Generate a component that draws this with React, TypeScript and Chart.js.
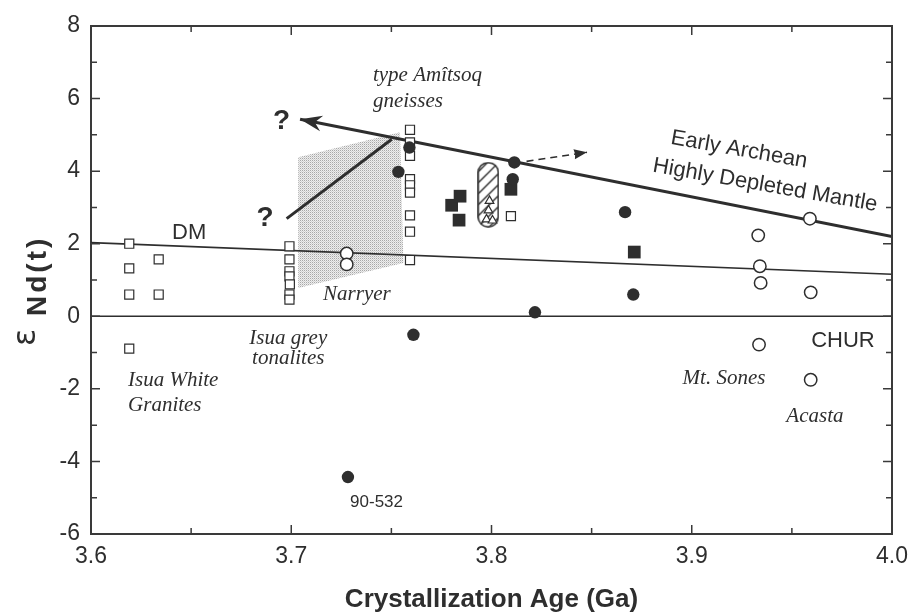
import React, { useEffect, useRef } from "react";
import { Chart, registerables } from "chart.js";

Chart.register(...registerables);

// ---------- axes ----------
const xTickValues = [3.6, 3.7, 3.8, 3.9, 4.0];
const xTickLabels = ["3.6", "3.7", "3.8", "3.9", "4.0"];
const yTickValues = [-6, -4, -2, 0, 2, 4, 6, 8];
const yTickLabels = ["-6", "-4", "-2", "0", "2", "4", "6", "8"];

// ---------- open squares (Isua white granites, Isua grey tonalites, Amitsoq gneisses) ----------
const isuaWhiteAge = [3.6191, 3.6191, 3.6191, 3.6191, 3.6338, 3.6338];
const isuaWhiteEnd = [2.0, 1.32, 0.6, -0.89, 1.57, 0.6];
const isuaGreyAge = [3.6991, 3.6991, 3.6991, 3.6991, 3.6993, 3.6991, 3.6991];
const isuaGreyEnd = [1.93, 1.57, 1.24, 1.1, 0.88, 0.6, 0.46];
const amitsoqAge = [3.7593, 3.7593, 3.7593, 3.7593, 3.7593, 3.7593, 3.7593, 3.7593, 3.7593, 3.8097];
const amitsoqEnd = [5.14, 4.79, 4.42, 3.78, 3.61, 3.41, 2.78, 2.33, 1.55, 2.76];

// ---------- filled circles ----------
const filledCircleAge = [3.759, 3.7535, 3.8114, 3.8106, 3.8667, 3.8708, 3.8217, 3.761, 3.7283];
const filledCircleEnd = [4.65, 3.98, 4.24, 3.78, 2.87, 0.6, 0.11, -0.51, -4.43];

// ---------- filled squares ----------
const filledSquareAge = [3.7801, 3.7843, 3.7838, 3.8097, 3.8713];
const filledSquareEnd = [3.06, 3.31, 2.65, 3.5, 1.77];

// ---------- open circles (Narryer, Mt. Sones, Acasta) ----------
const openCircleAge = [3.7277, 3.7277, 3.959, 3.9332, 3.934, 3.9344, 3.9594, 3.9336, 3.9594];
const openCircleEnd = [1.73, 1.43, 2.69, 2.23, 1.38, 0.92, 0.66, -0.78, -1.75];

// ---------- zircon field (hatched) and open triangles ----------
const hatchedAge = [3.7984];
const hatchedEnd = [3.35];
const triangleAge = [3.799, 3.7985, 3.7975, 3.8005];
const triangleEnd = [3.18, 2.92, 2.67, 2.64];

// ---------- evolution lines ----------
const dmAge = [3.6, 4.0];
const dmEnd = [2.03, 1.16];
const churAge = [3.6, 4.0];
const churEnd = [0, 0];
const hdmAge = [3.7044, 4.0];
const hdmEnd = [5.43, 2.2];
const altAge = [3.6977, 3.7502];
const altEnd = [2.69, 4.88];
const dashAge = [3.8175, 3.8477];
const dashEnd = [4.27, 4.52];
const narryerFieldAge = [3.7035, 3.7543, 3.756, 3.7035];
const narryerFieldEnd = [4.38, 5.07, 1.47, 0.78];

// ---------- annotations (data coordinates) ----------
const SERIF = '"Liberation Serif", "Times New Roman", serif';
const SANS = '"Liberation Sans", Arial, Helvetica, sans-serif';
const annotations = [
  { text: "type Amîtsoq", age: 3.7408, eNd: 6.48, font: `italic 21px ${SERIF}`, align: "left", rot: 0 },
  { text: "gneisses", age: 3.7408, eNd: 5.77, font: `italic 21px ${SERIF}`, align: "left", rot: 0 },
  { text: "?", age: 3.6951, eNd: 5.16, font: `bold 28px ${SANS}`, align: "center", rot: 0 },
  { text: "?", age: 3.6869, eNd: 2.48, font: `bold 28px ${SANS}`, align: "center", rot: 0 },
  { text: "DM", age: 3.649, eNd: 2.12, font: `22px ${SANS}`, align: "center", rot: 0 },
  { text: "Narryer", age: 3.7328, eNd: 0.46, font: `italic 21px ${SERIF}`, align: "center", rot: 0 },
  { text: "Isua grey", age: 3.6985, eNd: -0.754, font: `italic 21px ${SERIF}`, align: "center", rot: 0 },
  { text: "tonalites", age: 3.6985, eNd: -1.307, font: `italic 21px ${SERIF}`, align: "center", rot: 0 },
  { text: "Isua White", age: 3.6185, eNd: -1.914, font: `italic 21px ${SERIF}`, align: "left", rot: 0 },
  { text: "Granites", age: 3.6185, eNd: -2.605, font: `italic 21px ${SERIF}`, align: "left", rot: 0 },
  { text: "Mt. Sones", age: 3.9161, eNd: -1.86, font: `italic 21px ${SERIF}`, align: "center", rot: 0 },
  { text: "Acasta", age: 3.9615, eNd: -2.91, font: `italic 21px ${SERIF}`, align: "center", rot: 0 },
  { text: "CHUR", age: 3.9755, eNd: -0.84, font: `22px ${SANS}`, align: "center", rot: 0 },
  { text: "90-532", age: 3.7426, eNd: -5.26, font: `17px ${SANS}`, align: "center", rot: 0 },
  { text: "Early Archean", age: 3.9231, eNd: 4.425, font: `22px ${SANS}`, align: "center", rot: 10 },
  { text: "Highly Depleted Mantle", age: 3.9361, eNd: 3.445, font: `22px ${SANS}`, align: "center", rot: 10 },
];

const INK = "#2e2e2e";

const pts = (xs: number[], ys: number[]) => xs.map((x, i) => ({ x, y: ys[i] }));

function makeCapsule(): HTMLCanvasElement {
  const c = document.createElement("canvas");
  const w = 22, h = 66;
  c.width = w;
  c.height = h;
  const g = c.getContext("2d")!;
  const r = 9.5;
  const path = () => {
    g.beginPath();
    g.moveTo(1 + r, 1);
    g.arcTo(w - 1, 1, w - 1, h - 1, r);
    g.arcTo(w - 1, h - 1, 1, h - 1, r);
    g.arcTo(1, h - 1, 1, 1, r);
    g.arcTo(1, 1, w - 1, 1, r);
    g.closePath();
  };
  path();
  g.fillStyle = "#ffffff";
  g.fill();
  g.save();
  path();
  g.clip();
  g.strokeStyle = INK;
  g.lineWidth = 1.3;
  for (let k = -w; k < h + w; k += 11) {
    g.beginPath();
    g.moveTo(0, k + w);
    g.lineTo(w, k);
    g.stroke();
  }
  g.restore();
  path();
  g.lineWidth = 1.6;
  g.strokeStyle = INK;
  g.stroke();
  return c;
}

function makeStipple(canvas: HTMLCanvasElement) {
  const p = document.createElement("canvas");
  p.width = 2;
  p.height = 2;
  const g = p.getContext("2d")!;
  g.fillStyle = "#eeeeee";
  g.fillRect(0, 0, 2, 2);
  g.fillStyle = "#a8a8a8";
  g.fillRect(0, 0, 1, 1);
  g.fillStyle = "#d2d2d2";
  g.fillRect(1, 1, 1, 1);
  return canvas.getContext("2d")!.createPattern(p, "repeat");
}

function drawArrowHead(ctx: CanvasRenderingContext2D, fx: number, fy: number, tx: number, ty: number, len: number, half: number, notch: number) {
  const ang = Math.atan2(ty - fy, tx - fx);
  const c = Math.cos(ang), s = Math.sin(ang);
  const P = (u: number, v: number) => [tx - u * c - v * s, ty - u * s + v * c];
  const a = P(len, half), b = P(notch, 0), d = P(len, -half);
  ctx.beginPath();
  ctx.moveTo(tx, ty);
  ctx.lineTo(a[0], a[1]);
  ctx.lineTo(b[0], b[1]);
  ctx.lineTo(d[0], d[1]);
  ctx.closePath();
  ctx.fillStyle = INK;
  ctx.fill();
}

const overlayPlugin = {
  id: "overlay",
  afterDatasetsDraw(chart: any) {
    const ctx: CanvasRenderingContext2D = chart.ctx;
    const xs = chart.scales.x;
    const ys = chart.scales.y;
    const a = chart.chartArea;
    const idx = (lbl: string) => chart.data.datasets.findIndex((d: any) => d.label === lbl);
    ctx.save();
    // arrow heads
    const hdm = chart.getDatasetMeta(idx("hdm")).data;
    drawArrowHead(ctx, hdm[1].x, hdm[1].y, hdm[0].x, hdm[0].y, 22, 8, 15);
    const dsh = chart.getDatasetMeta(idx("dash")).data;
    drawArrowHead(ctx, dsh[0].x, dsh[0].y, dsh[1].x, dsh[1].y, 13, 5, 12);

    // frame (top, right)
    ctx.strokeStyle = "#3a3a3a";
    ctx.lineWidth = 2;
    ctx.beginPath();
    ctx.moveTo(a.left, a.top);
    ctx.lineTo(a.right, a.top);
    ctx.lineTo(a.right, a.bottom);
    ctx.stroke();

    // inward ticks
    ctx.lineWidth = 1.5;
    ctx.beginPath();
    for (let i = 0; i <= 8; i++) {
      const v = xTickValues[0] + i * 0.05;
      const px = xs.getPixelForValue(v);
      const L = i % 2 === 0 ? 9 : 6;
      ctx.moveTo(px, a.bottom);
      ctx.lineTo(px, a.bottom - L);
      ctx.moveTo(px, a.top);
      ctx.lineTo(px, a.top + L);
    }
    for (let v = yTickValues[0]; v <= yTickValues[yTickValues.length - 1]; v++) {
      const py = ys.getPixelForValue(v);
      const L = v % 2 === 0 ? 9 : 6;
      ctx.moveTo(a.left, py);
      ctx.lineTo(a.left + L, py);
      ctx.moveTo(a.right, py);
      ctx.lineTo(a.right - L, py);
    }
    ctx.stroke();

    // annotations
    ctx.fillStyle = INK;
    ctx.textBaseline = "alphabetic";
    for (const t of annotations) {
      ctx.save();
      ctx.translate(xs.getPixelForValue(t.age), ys.getPixelForValue(t.eNd));
      ctx.rotate((t.rot * Math.PI) / 180);
      ctx.font = t.font;
      ctx.textAlign = t.align as CanvasTextAlign;
      ctx.fillText(t.text, 0, 0);
      ctx.restore();
    }
    ctx.restore();
  },
  afterDraw(chart: any) {
    const ctx: CanvasRenderingContext2D = chart.ctx;
    ctx.save();
    ctx.fillStyle = INK;
    ctx.rotate(-Math.PI / 2);
    ctx.textBaseline = "alphabetic";
    ctx.textAlign = "left";
    ctx.font = `32px "DejaVu Sans", sans-serif`;
    ctx.fillText("ε", -346, 35);
    ctx.font = `bold 28px ${SANS}`;
    (ctx as any).letterSpacing = "3px";
    ctx.fillText("Nd(t)", -316, 46);
    ctx.restore();
  },
};

export default function App() {
  const ref = useRef<HTMLCanvasElement>(null);
  useEffect(() => {
    const canvas = ref.current!;
    const capsule = makeCapsule();
    const stipple = makeStipple(canvas);
    const lineDs = (label: string, xs: number[], ys: number[], width: number, order: number, dash: number[] = []) => ({
      label,
      type: "line" as const,
      data: pts(xs, ys),
      borderColor: INK,
      borderWidth: width,
      borderDash: dash,
      pointRadius: 0,
      showLine: true,
      fill: false,
      tension: 0,
      order,
    });
    const chart = new Chart(canvas, {
      type: "scatter",
      data: {
        datasets: [
          {
            label: "narryerField",
            type: "line",
            data: pts(narryerFieldAge.concat([narryerFieldAge[0]]), narryerFieldEnd.concat([narryerFieldEnd[0]])),
            backgroundColor: stipple as any,
            borderColor: "rgba(0,0,0,0)",
            borderWidth: 0,
            pointRadius: 0,
            showLine: true,
            fill: "shape",
            tension: 0,
            order: 30,
          } as any,
          lineDs("chur", churAge, churEnd, 1.6, 20),
          lineDs("dm", dmAge, dmEnd, 1.6, 20),
          lineDs("hdm", hdmAge, hdmEnd, 3, 19),
          lineDs("alt", altAge, altEnd, 3, 19),
          lineDs("dash", dashAge, dashEnd, 1.6, 19, [7, 5]),
          {
            label: "openSquares",
            data: pts(isuaWhiteAge.concat(isuaGreyAge, amitsoqAge), isuaWhiteEnd.concat(isuaGreyEnd, amitsoqEnd)),
            pointStyle: "rect",
            pointRadius: 6.4,
            backgroundColor: "#ffffff",
            borderColor: INK,
            borderWidth: 1.2,
            order: 10,
          },
          {
            label: "hatched",
            data: pts(hatchedAge, hatchedEnd),
            pointStyle: capsule as any,
            pointRadius: 10,
            order: 9,
          },
          {
            label: "triangles",
            data: pts(triangleAge, triangleEnd),
            pointStyle: "triangle",
            pointRadius: 5,
            backgroundColor: "#ffffff",
            borderColor: INK,
            borderWidth: 1.2,
            order: 8,
          },
          {
            label: "openCircles",
            data: pts(openCircleAge, openCircleEnd),
            pointStyle: "circle",
            pointRadius: 6.2,
            backgroundColor: "#ffffff",
            borderColor: INK,
            borderWidth: 1.5,
            order: 7,
          },
          {
            label: "filledSquares",
            data: pts(filledSquareAge, filledSquareEnd),
            pointStyle: "rect",
            pointRadius: 9,
            backgroundColor: INK,
            borderColor: INK,
            borderWidth: 0,
            order: 6,
          },
          {
            label: "filledCircles",
            data: pts(filledCircleAge, filledCircleEnd),
            pointStyle: "circle",
            pointRadius: 6.2,
            backgroundColor: INK,
            borderColor: INK,
            borderWidth: 0,
            order: 5,
          },
        ],
      },
      options: {
        animation: false,
        responsive: false,
        events: [],
        layout: { padding: { left: 0, top: 26, right: 21, bottom: 0 } },
        plugins: { legend: { display: false }, tooltip: { enabled: false } },
        scales: {
          x: {
            type: "linear",
            min: 3.6,
            max: 4.0,
            afterBuildTicks: (s: any) => {
              s.ticks = xTickValues.map((v) => ({ value: v }));
            },
            afterFit: (s: any) => {
              s.height = 81;
              s.paddingRight = 0;
              s.paddingLeft = 0;
            },
            ticks: {
              callback: (_v: any, i: number) => xTickLabels[i],
              font: { family: SANS, size: 23 },
              color: INK,
              padding: 9,
              maxRotation: 0,
            },
            grid: { display: false, drawTicks: false },
            border: { display: true, color: "#3a3a3a", width: 2 },
            title: {
              display: true,
              text: "Crystallization Age (Ga)",
              font: { family: SANS, size: 26, weight: "bold" },
              color: INK,
              padding: { top: 0, bottom: 0 },
            },
          },
          y: {
            type: "linear",
            min: -6,
            max: 8,
            afterBuildTicks: (s: any) => {
              s.ticks = yTickValues.map((v) => ({ value: v }));
            },
            afterFit: (s: any) => {
              s.width = 91;
              s.paddingTop = 0;
              s.paddingBottom = 0;
            },
            ticks: {
              callback: (_v: any, i: number) => yTickLabels[i],
              font: { family: SANS, size: 23 },
              color: INK,
              padding: 11,
            },
            grid: { display: false, drawTicks: false },
            border: { display: true, color: "#3a3a3a", width: 2 },
          },
        },
      },
      plugins: [overlayPlugin],
    });
    return () => chart.destroy();
  }, []);
  return (
    <div style={{ position: "absolute", left: 0, top: 0, width: 913, height: 615, background: "#fff" }}>
      <canvas ref={ref} width={913} height={615} style={{ display: "block" }} />
    </div>
  );
}
